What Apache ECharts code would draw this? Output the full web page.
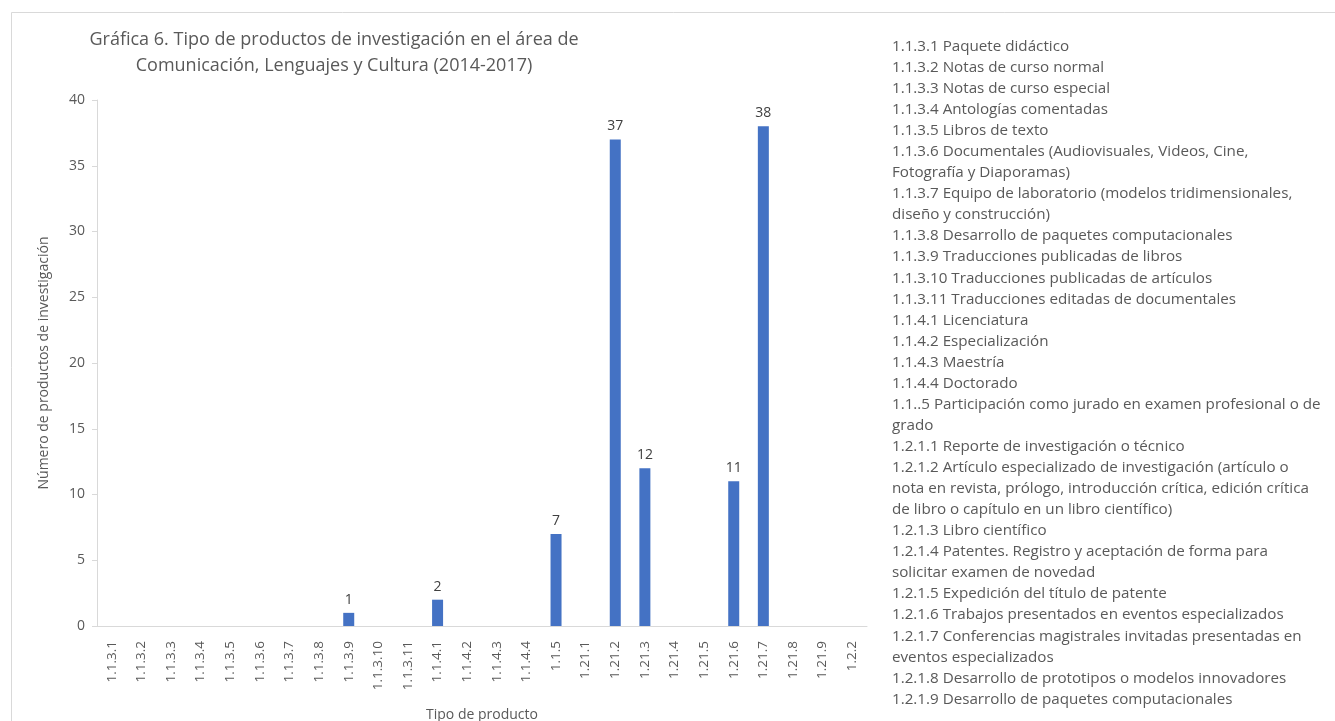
<!DOCTYPE html>
<html><head><meta charset="utf-8">
<script src="https://cdn.jsdelivr.net/npm/echarts@6/dist/echarts.min.js"></script>
<style>html,body{margin:0;padding:0;background:#fff}#c{width:1335px;height:721px}</style>
</head><body><div id="c"></div>
<script>
const categories = ["1.1.3.1","1.1.3.2","1.1.3.3","1.1.3.4","1.1.3.5","1.1.3.6","1.1.3.7","1.1.3.8","1.1.3.9","1.1.3.10","1.1.3.11","1.1.4.1","1.1.4.2","1.1.4.3","1.1.4.4","1.1.5","1.21.1","1.21.2","1.21.3","1.21.4","1.21.5","1.21.6","1.21.7","1.21.8","1.21.9","1.2.2"];
const values = [null,null,null,null,null,null,null,null,1,null,null,2,null,null,null,7,null,37,12,null,null,11,38,null,null,null];
const titleLines = ["Gráfica 6. Tipo de productos de investigación en el área de","Comunicación, Lenguajes y Cultura (2014-2017)"];
const yAxisName = "Número de productos de investigación";
const xAxisName = "Tipo de producto";
const legendLines = [
"1.1.3.1 Paquete didáctico",
"1.1.3.2 Notas de curso normal",
"1.1.3.3 Notas de curso especial",
"1.1.3.4 Antologías comentadas",
"1.1.3.5 Libros de texto",
"1.1.3.6 Documentales (Audiovisuales, Videos, Cine,",
"Fotografía y Diaporamas)",
"1.1.3.7 Equipo de laboratorio (modelos tridimensionales,",
"diseño y construcción)",
"1.1.3.8 Desarrollo de paquetes computacionales",
"1.1.3.9 Traducciones publicadas de libros",
"1.1.3.10 Traducciones publicadas de artículos",
"1.1.3.11 Traducciones editadas de documentales",
"1.1.4.1 Licenciatura",
"1.1.4.2 Especialización",
"1.1.4.3 Maestría",
"1.1.4.4 Doctorado",
"1.1..5 Participación como jurado en examen profesional o de",
"grado",
"1.2.1.1 Reporte de investigación o técnico",
"1.2.1.2 Artículo especializado de investigación (artículo o",
"nota en revista, prólogo, introducción crítica, edición crítica",
"de libro o capítulo en un libro científico)",
"1.2.1.3 Libro científico",
"1.2.1.4 Patentes. Registro y aceptación de forma para",
"solicitar examen de novedad",
"1.2.1.5 Expedición del título de patente",
"1.2.1.6 Trabajos presentados en eventos especializados",
"1.2.1.7 Conferencias magistrales invitadas presentadas en",
"eventos especializados",
"1.2.1.8 Desarrollo de prototipos o modelos innovadores",
"1.2.1.9 Desarrollo de paquetes computacionales"
];
const FONT = "'Open Sans', Lato, sans-serif";
const chart = echarts.init(document.getElementById('c'));
chart.setOption({
  animation:false,
  backgroundColor:'#fff',
  textStyle:{fontFamily:FONT},
  grid:{left:97,right:468,top:100,bottom:95,outerBoundsMode:'none',containLabel:false},
  xAxis:{type:'category',data:categories,
    name:xAxisName,nameLocation:'middle',nameGap:82,
    nameTextStyle:{color:'#595959',fontSize:14,fontFamily:FONT},
    axisLine:{lineStyle:{color:'#d9d9d9'}},axisTick:{show:false},
    axisLabel:{rotate:90,interval:0,color:'#595959',fontSize:13.5,margin:15,fontFamily:FONT}},
  yAxis:{type:'value',min:0,max:40,interval:5,
    name:yAxisName,nameLocation:'middle',nameGap:46,
    nameTextStyle:{color:'#595959',fontSize:14,fontFamily:FONT},
    axisLine:{show:true,lineStyle:{color:'#d9d9d9'}},
    axisTick:{show:true,inside:false,length:5,lineStyle:{color:'#d9d9d9'}},
    splitLine:{show:false},
    axisLabel:{color:'#595959',fontSize:14,margin:12,fontFamily:FONT}},
  series:[{type:'bar',data:values,barWidth:11,itemStyle:{color:'#4472C4'},
    label:{show:true,position:'top',color:'#404040',fontSize:14,distance:6,fontFamily:FONT}}],
  graphic:[
    {type:'rect',left:9,top:10,shape:{width:1340,height:720},style:{fill:'none',stroke:'#d9d9d9',lineWidth:1},silent:true},
    {type:'text',x:334,y:27,style:{text:titleLines.join('\n'),font:"18px "+FONT,fill:'#595959',align:'center',lineHeight:26}},
    {type:'text',x:892,y:36,style:{text:legendLines.join('\n'),font:"15.2px "+FONT,fill:'#595959',lineHeight:21.06}}
  ]
});
</script></body></html>
